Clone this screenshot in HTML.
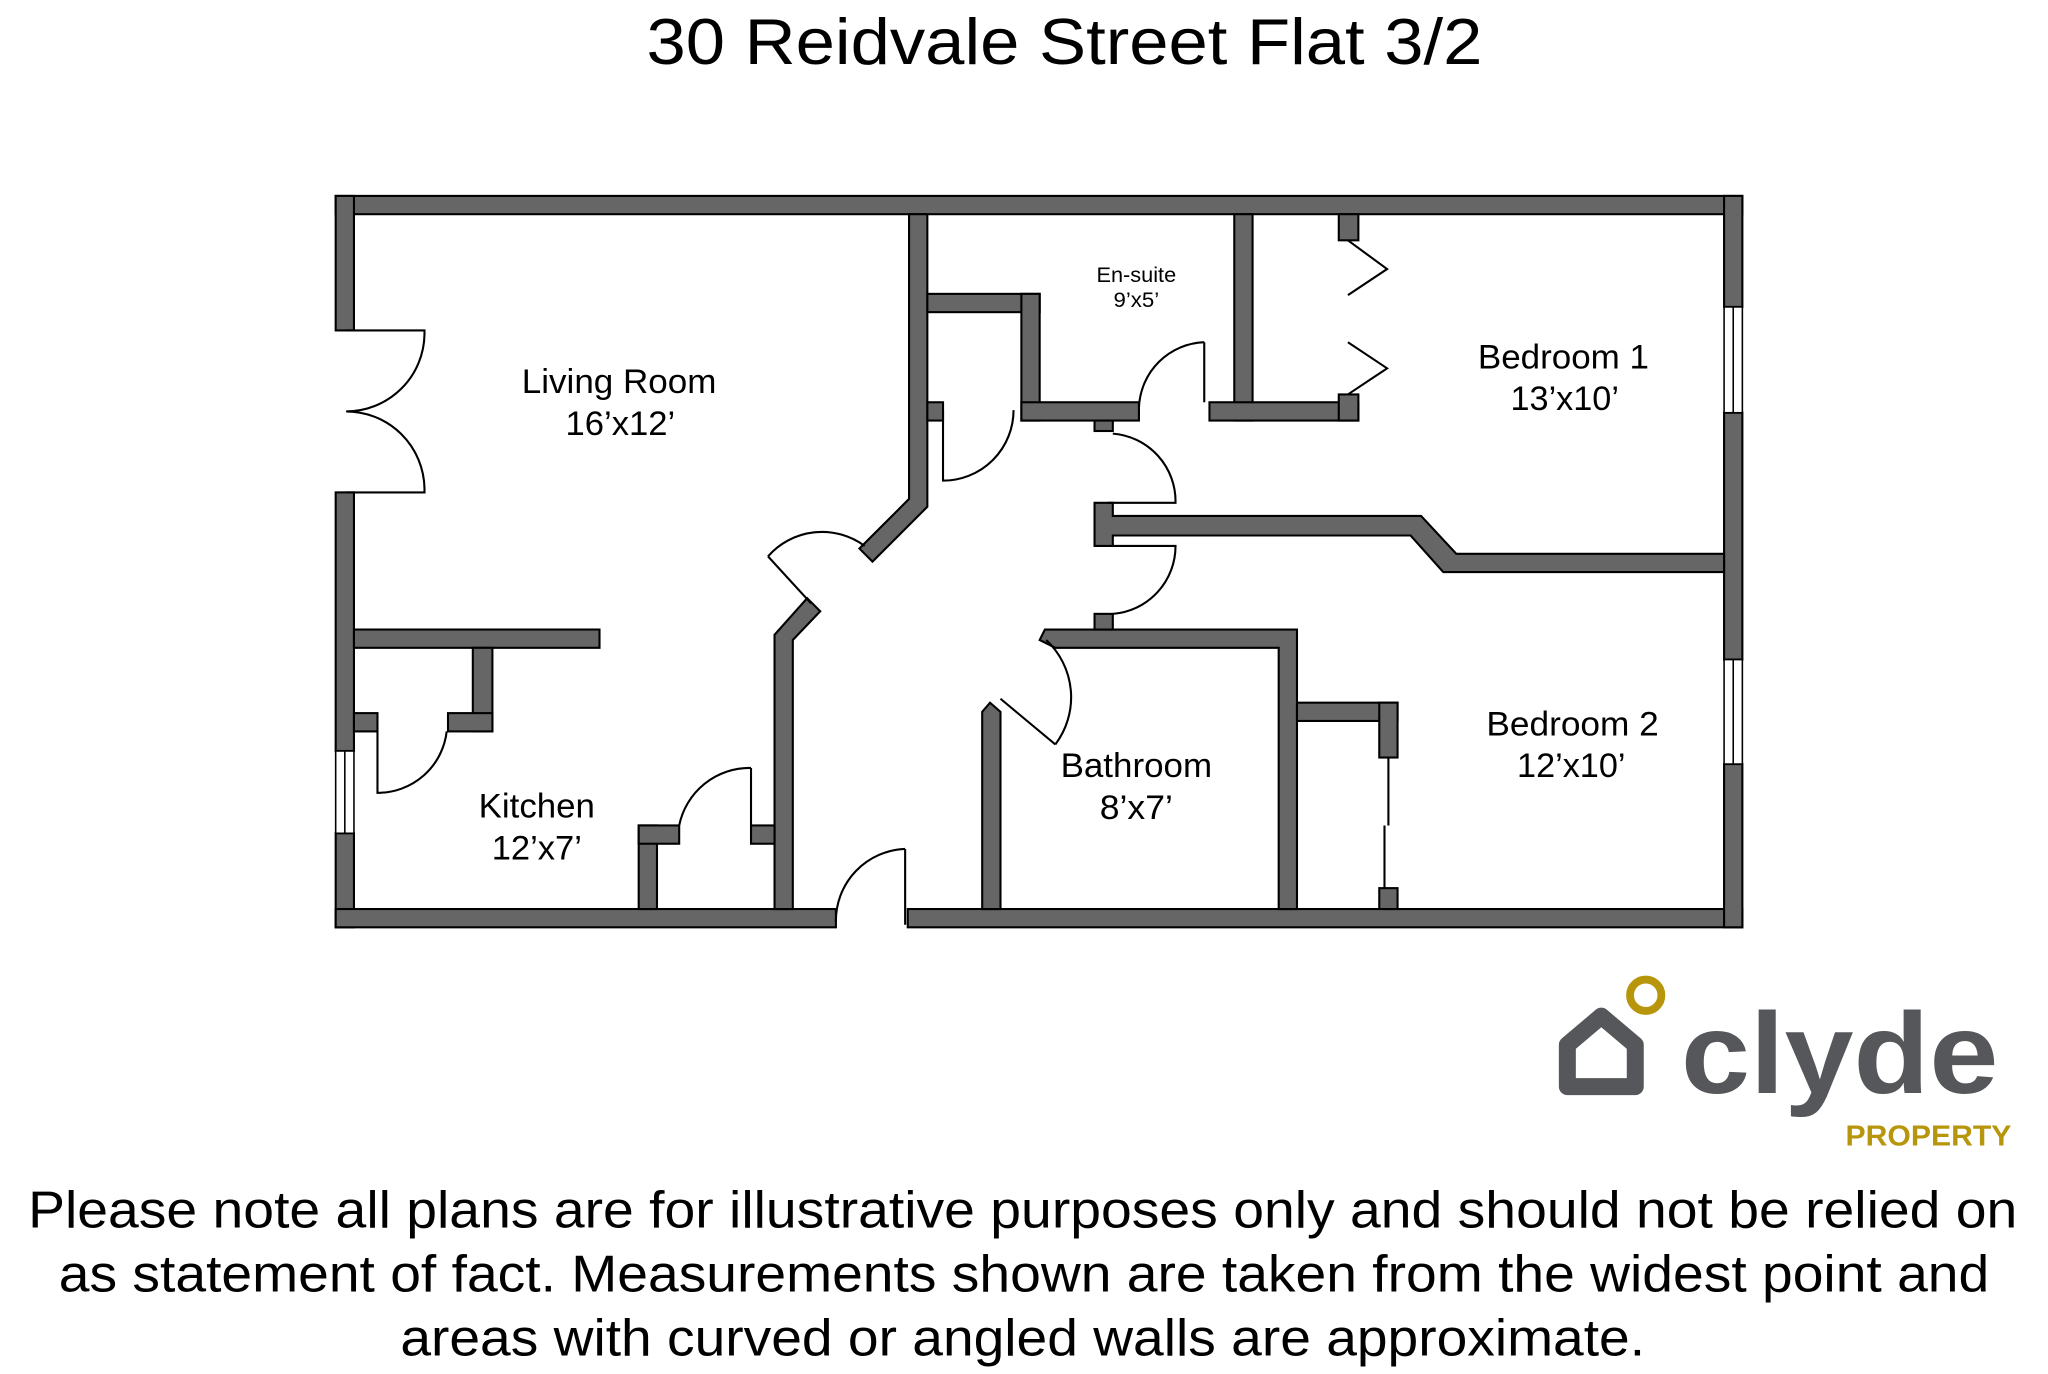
<!DOCTYPE html>
<html><head><meta charset="utf-8"><style>html,body{margin:0;padding:0;background:#fff}svg{display:block}text{font-family:"Liberation Sans",Arial,sans-serif}</style></head>
<body>
<svg width="2048" height="1374" viewBox="0 0 1568 1052" preserveAspectRatio="none" xmlns="http://www.w3.org/2000/svg">
<rect width="1568" height="1052" fill="#fff"/>
<text x="815" y="49" font-size="50" text-anchor="middle" textLength="640" lengthAdjust="spacingAndGlyphs">30 Reidvale Street Flat 3/2</text>
<g fill="#666" stroke="#000" stroke-width="1.6">
<rect x="257" y="150" width="1077" height="14"/>
<rect x="257" y="150" width="14" height="103"/>
<rect x="257" y="377" width="14" height="198"/>
<rect x="257" y="638" width="14" height="72"/>
<rect x="257" y="696" width="383" height="14"/>
<rect x="695" y="696" width="639" height="14"/>
<rect x="1320" y="150" width="14" height="85"/>
<rect x="1320" y="316" width="14" height="189"/>
<rect x="1320" y="585" width="14" height="125"/>
<polygon points="696,164 710,164 710,388 668,430 658,420 696,382"/>
<polygon points="618,458 628,468 607,490 607,696 593,696 593,486"/>
<rect x="271" y="482" width="188" height="14"/>
<rect x="362" y="496" width="15" height="64"/>
<rect x="343" y="546" width="34" height="14"/>
<rect x="271" y="546" width="18" height="14"/>
<rect x="489" y="632" width="14" height="64"/>
<rect x="489" y="632" width="31" height="14"/>
<rect x="575" y="632" width="18" height="14"/>
<rect x="710" y="225" width="86" height="14"/>
<rect x="782" y="225" width="14" height="97"/>
<rect x="782" y="308" width="90" height="14"/>
<rect x="838" y="322" width="14" height="8"/>
<rect x="710" y="308" width="12" height="14"/>
<rect x="945" y="164" width="14" height="158"/>
<rect x="926" y="308" width="114" height="14"/>
<rect x="1025" y="302" width="15" height="20"/>
<rect x="1025" y="164" width="15" height="20"/>
<polygon points="838,385 852,385 852,395 1088,395 1115,424 1320,424 1320,438 1105,438 1080,410 852,410 852,418 838,418"/>
<polygon points="800,482 993,482 993,696 979,696 979,496 808,496 796,490"/>
<rect x="838" y="470" width="14" height="12"/>
<polygon points="752,545 758,538 766,545 766,696 752,696"/>
<rect x="993" y="538" width="77" height="14"/>
<rect x="1056" y="538" width="14" height="42"/>
<rect x="1056" y="680" width="14" height="16"/>
</g>
<g fill="#fff" stroke="#000" stroke-width="1.2">
<rect x="257" y="575" width="14" height="63"/><line x1="264" y1="575" x2="264" y2="638"/>
<rect x="1320" y="235" width="14" height="81"/><line x1="1327" y1="235" x2="1327" y2="316"/>
<rect x="1320" y="505" width="14" height="80"/><line x1="1327" y1="505" x2="1327" y2="585"/>
</g>
<g fill="none" stroke="#000" stroke-width="1.6">
<path d="M265,253 H325 V256 A60,60 0 0 1 265,315 A60,60 0 0 1 325,374 V377 H265"/>
<path d="M289,560 V607 A53,53 0 0 0 342,560"/>
<path d="M575,588 V636 M575,588 A55,55 0 0 0 520,632"/>
<path d="M693,650 V708 M693,650 A55,55 0 0 0 640,706"/>
<path d="M722,314 V368 A54,54 0 0 0 776,314"/>
<path d="M922,262 V308 M922,262 A52,52 0 0 0 872,312"/>
<path d="M852,332 A52,52 0 0 1 900,385 H848"/>
<path d="M852,418 H900 A52,52 0 0 1 852,470"/>
<path d="M588,426 L621,462 M588,426 A55,55 0 0 1 662,418"/>
<path d="M766,535 L808,570 M808,570 A60,60 0 0 0 801,490"/>
<path d="M1032,184 L1062,206 L1032,226 M1032,262 L1062,282 L1032,302"/>
<path d="M1063,580 V632 M1060,632 V680"/>
</g>
<g font-size="26" text-anchor="middle" lengthAdjust="spacingAndGlyphs">
<text x="474" y="301" textLength="149" lengthAdjust="spacingAndGlyphs">Living Room</text><text x="475" y="333" textLength="84" lengthAdjust="spacingAndGlyphs">16’x12’</text>
<text x="411" y="626" textLength="89" lengthAdjust="spacingAndGlyphs">Kitchen</text><text x="411" y="658" textLength="69" lengthAdjust="spacingAndGlyphs">12’x7’</text>
<text x="870" y="595" textLength="116" lengthAdjust="spacingAndGlyphs">Bathroom</text><text x="870" y="627" textLength="56" lengthAdjust="spacingAndGlyphs">8’x7’</text>
<text x="1197" y="282" textLength="131" lengthAdjust="spacingAndGlyphs">Bedroom 1</text><text x="1198" y="314" textLength="83" lengthAdjust="spacingAndGlyphs">13’x10’</text>
<text x="1204" y="563" textLength="132" lengthAdjust="spacingAndGlyphs">Bedroom 2</text><text x="1203" y="595" textLength="83" lengthAdjust="spacingAndGlyphs">12’x10’</text>
<text x="870" y="216" font-size="16" textLength="61" lengthAdjust="spacingAndGlyphs">En-suite</text><text x="870" y="235" font-size="16" textLength="35" lengthAdjust="spacingAndGlyphs">9’x5’</text>
</g>
<path d="M1200,832 V800 L1226,778 L1252,800 V832 Z" fill="none" stroke="#55575a" stroke-width="13" stroke-linejoin="round"/>
<circle cx="1260" cy="762" r="12" fill="none" stroke="#b8960c" stroke-width="6"/>
<text x="1287" y="837" font-size="88" font-weight="bold" fill="#55575a" textLength="243" lengthAdjust="spacingAndGlyphs">clyde</text>
<text x="1413" y="877" font-size="22" font-weight="bold" fill="#b8960c" textLength="127" lengthAdjust="spacingAndGlyphs">PROPERTY</text>
<g font-size="40" text-anchor="middle">
<text x="783" y="940" textLength="1523" lengthAdjust="spacingAndGlyphs">Please note all plans are for illustrative purposes only and should not be relied on</text>
<text x="784" y="989" textLength="1478" lengthAdjust="spacingAndGlyphs">as statement of fact. Measurements shown are taken from the widest point and</text>
<text x="783" y="1038" textLength="953" lengthAdjust="spacingAndGlyphs">areas with curved or angled walls are approximate.</text>
</g>
</svg>
</body></html>
